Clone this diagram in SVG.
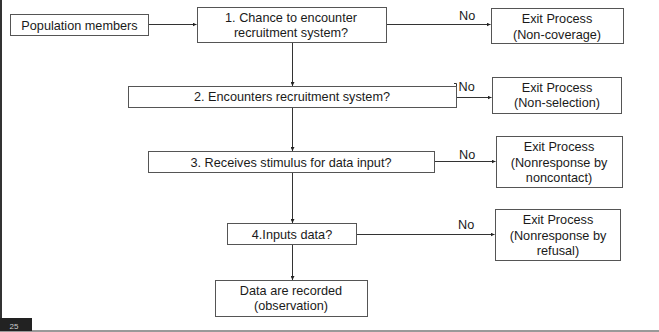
<svg xmlns="http://www.w3.org/2000/svg" width="659" height="332" viewBox="0 0 659 332">
  <defs>
    <marker id="arrow" viewBox="0 0 6 6" refX="6" refY="3" markerWidth="4" markerHeight="4" orient="auto" markerUnits="userSpaceOnUse">
      <path d="M0,0 L6,3 L0,6 Z" fill="#222"/>
    </marker>
  </defs>
  <style>
    .box { fill: #fff; stroke: #555; stroke-width: 1; }
    .lbl { font-family: "Liberation Sans", Arial, sans-serif; font-size: 12.7px; fill: #1a1a1a; text-anchor: middle; }
    .edge { fill: none; stroke: #333; stroke-width: 1; marker-end: url(#arrow); }
    .no { font-family: "Liberation Sans", Arial, sans-serif; font-size: 12.7px; fill: #1a1a1a; }
  </style>

  <rect x="0" y="0" width="659" height="332" fill="#fff"/>

  <!-- slide frame -->
  <rect x="0" y="0" width="2" height="318" fill="#333"/>
  <line x1="0" y1="331" x2="659" y2="331" stroke="#777" stroke-width="1.5"/>
  <rect x="0" y="318" width="32" height="13" fill="#222"/>
  <text x="14" y="328.5" font-family="Liberation Sans, Arial, sans-serif" font-size="8" fill="#ccc" text-anchor="middle">25</text>

  <g id="connectors">
    <path class="edge" d="M148.5,24.5 H196.5"/>
    <path class="edge" d="M386.5,24.5 H490.5"/>
    <path class="edge" d="M292.5,42.5 V86"/>
    <path class="edge" d="M454,83.5 H456.5 V97.5 H491.5"/>
    <path class="edge" d="M292.5,107.5 V151"/>
    <path class="edge" d="M434.5,161.5 H495.5"/>
    <path class="edge" d="M292.5,172.5 V223"/>
    <path class="edge" d="M356.5,234.5 H494.5"/>
    <path class="edge" d="M292.5,244.5 V280"/>
    <text class="no" x="459" y="20">No</text>
    <text class="no" x="458.5" y="91">No</text>
    <text class="no" x="459" y="159">No</text>
    <text class="no" x="458" y="229">No</text>
  </g>

  <g id="population">
    <rect class="box" x="10.5" y="14.5" width="138" height="21"/>
    <text class="lbl" x="79.5" y="29.5">Population members</text>
  </g>

  <g id="step1">
    <rect class="box" x="197.5" y="7.5" width="189" height="35"/>
    <text class="lbl" x="291" y="21.5">1. Chance to encounter</text>
    <text class="lbl" x="291" y="36.5">recruitment system?</text>
  </g>

  <g id="exit1">
    <rect class="box" x="491.5" y="8.5" width="132" height="35"/>
    <text class="lbl" x="557" y="23">Exit Process</text>
    <text class="lbl" x="557" y="38.5">(Non-coverage)</text>
  </g>

  <g id="step2">
    <rect class="box" x="128.5" y="86.5" width="328" height="21"/>
    <text class="lbl" x="292" y="101">2. Encounters recruitment system?</text>
  </g>

  <g id="exit2">
    <rect class="box" x="492.5" y="77.5" width="129" height="36"/>
    <text class="lbl" x="557" y="92">Exit Process</text>
    <text class="lbl" x="557" y="107">(Non-selection)</text>
  </g>

  <g id="step3">
    <rect class="box" x="148.5" y="151.5" width="286" height="21"/>
    <text class="lbl" x="291" y="166.5">3. Receives stimulus for data input?</text>
  </g>

  <g id="exit3">
    <rect class="box" x="496.5" y="136.5" width="126" height="51"/>
    <text class="lbl" x="559" y="151">Exit Process</text>
    <text class="lbl" x="559" y="166.5">(Nonresponse by</text>
    <text class="lbl" x="559" y="182">noncontact)</text>
  </g>

  <g id="step4">
    <rect class="box" x="227.5" y="223.5" width="129" height="21"/>
    <text class="lbl" x="292" y="238.5">4.Inputs data?</text>
  </g>

  <g id="exit4">
    <rect class="box" x="495.5" y="209.5" width="125" height="51"/>
    <text class="lbl" x="558" y="224">Exit Process</text>
    <text class="lbl" x="558" y="239.5">(Nonresponse by</text>
    <text class="lbl" x="558" y="255">refusal)</text>
  </g>

  <g id="recorded">
    <rect class="box" x="215.5" y="280.5" width="152" height="36"/>
    <text class="lbl" x="291" y="295">Data are recorded</text>
    <text class="lbl" x="291" y="310">(observation)</text>
  </g>
</svg>
